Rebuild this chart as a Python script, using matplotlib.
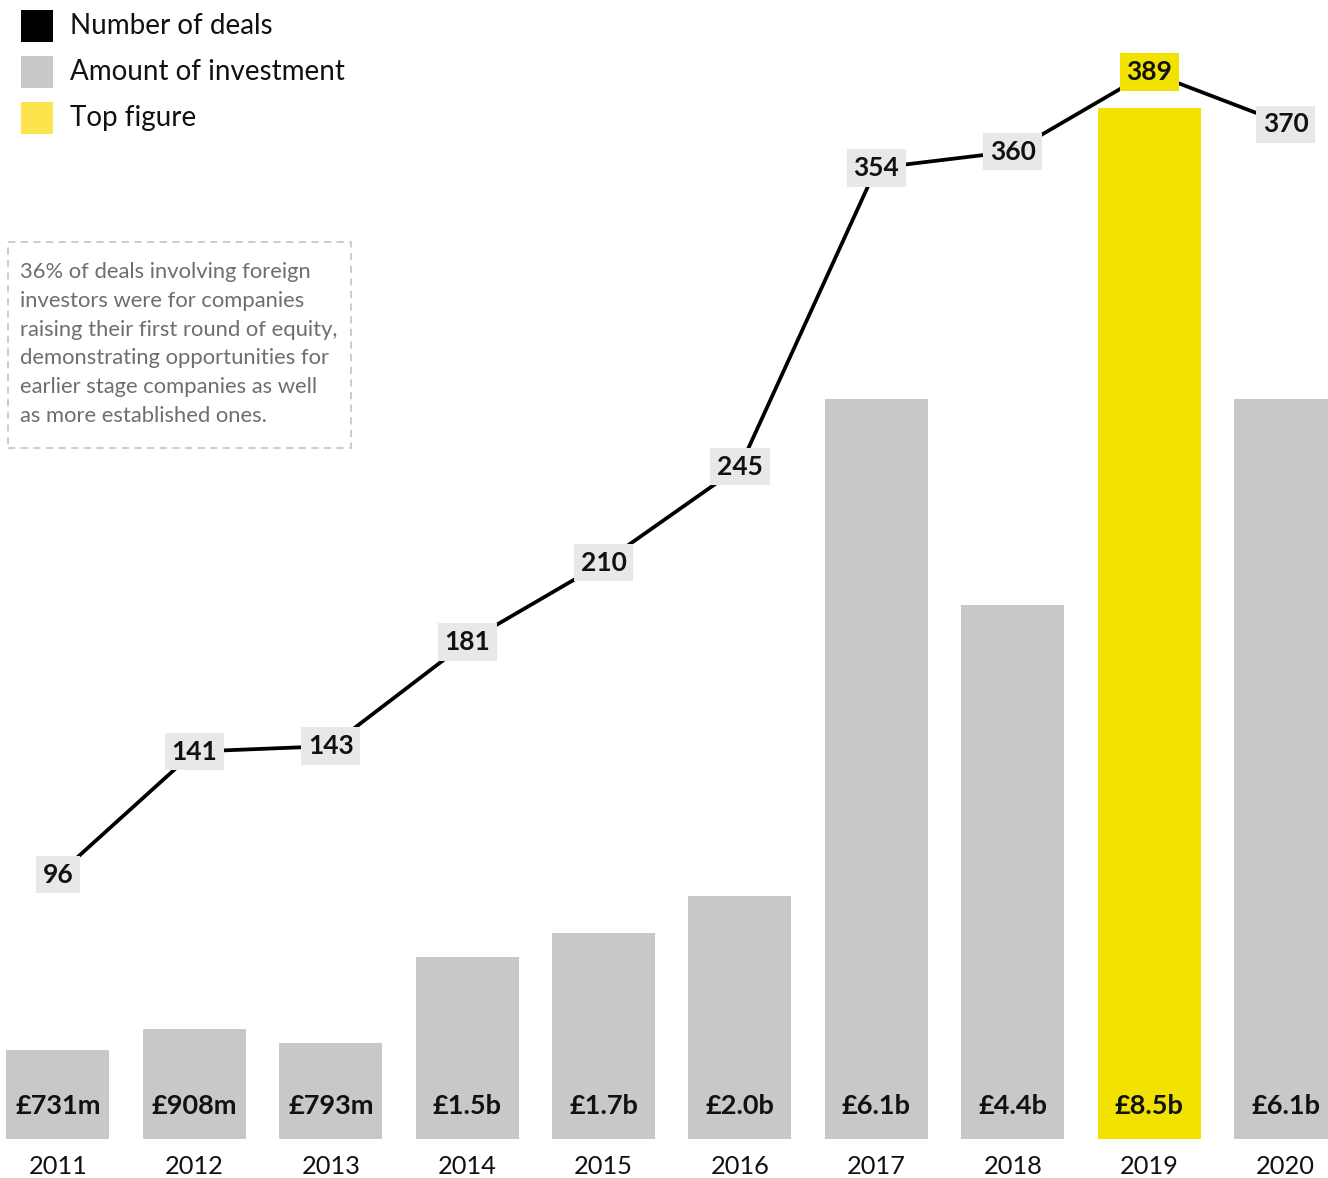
import matplotlib
matplotlib.use("Agg")
import matplotlib.pyplot as plt
from matplotlib.patches import Rectangle

plt.rcParams["font.family"] = ["Lato", "DejaVu Sans"]

years = ["2011", "2012", "2013", "2014", "2015", "2016", "2017", "2018", "2019", "2020"]
investment_bn = [0.731, 0.908, 0.793, 1.5, 1.7, 2.0, 6.1, 4.4, 8.5, 6.1]
investment_labels = ["£731m", "£908m", "£793m", "£1.5b", "£1.7b", "£2.0b", "£6.1b", "£4.4b", "£8.5b", "£6.1b"]
deals = [96, 141, 143, 181, 210, 245, 354, 360, 389, 370]
top_year = "2019"

GREY = "#c8c8c8"
YELLOW = "#f2e200"
LEGEND_YELLOW = "#fde44c"
LABEL_BG = "#e8e8e8"

fig = plt.figure(figsize=(13.28, 11.78), dpi=100)
ax = fig.add_axes([0, 39 / 1178, 1, 1139 / 1178])
ax.set_xlim(-0.425, 9.311)
ax.set_ylim(0, 9.39)
ax.axis("off")

xs = list(range(len(years)))
colors = [YELLOW if y == top_year else GREY for y in years]
ax.bar(xs, investment_bn, width=0.755, color=colors, zorder=1)

for x, lab in zip(xs, investment_labels):
    ax.text(x, 0.27, lab, ha="center", va="center", fontsize=19.5, fontweight="bold", color="#111111")
    ax.text(x, -0.23, years[x], ha="center", va="center", fontsize=18.3, color="#111111", clip_on=False)

# deals line on its own scale
ax2 = ax.twinx()
ax2.set_ylim(-0.4, 415.3)
ax2.axis("off")
ax2.plot(xs, deals, color="black", linewidth=2.7, zorder=2, solid_capstyle="butt")
for x, d, y in zip(xs, deals, years):
    bg = YELLOW if y == top_year else LABEL_BG
    ax2.text(x, d, str(d), ha="center", va="center", fontsize=19, fontweight="bold", color="#111111",
             zorder=3, bbox=dict(boxstyle="square,pad=0.25", facecolor=bg, edgecolor="none"))

# legend
legend_items = [("Number of deals", "black"), ("Amount of investment", GREY), ("Top figure", LEGEND_YELLOW)]
for i, (name, col) in enumerate(legend_items):
    top = 10 + i * 46
    fig.patches.append(Rectangle((21 / 1328, 1 - (top + 32) / 1178), 32 / 1328, 32 / 1178,
                                 transform=fig.transFigure, facecolor=col, edgecolor="none"))
    fig.text(70 / 1328, 1 - (top + 16) / 1178, name, ha="left", va="center", fontsize=20, color="#111111")

# note box
fig.patches.append(Rectangle((8 / 1328, 1 - 448 / 1178), 343 / 1328, 206 / 1178, transform=fig.transFigure,
                             facecolor="none", edgecolor="#c8c8c8", linewidth=1.3, linestyle=(0, (4, 3))))
note = ("36% of deals involving foreign\n"
        "investors were for companies\n"
        "raising their first round of equity,\n"
        "demonstrating opportunities for\n"
        "earlier stage companies as well\n"
        "as more established ones.")
fig.text(20 / 1328, 1 - 262 / 1178, note, ha="left", va="top", fontsize=15.8, color="#6e6e6e", linespacing=1.55)

fig.savefig("out.png", dpi=100)
